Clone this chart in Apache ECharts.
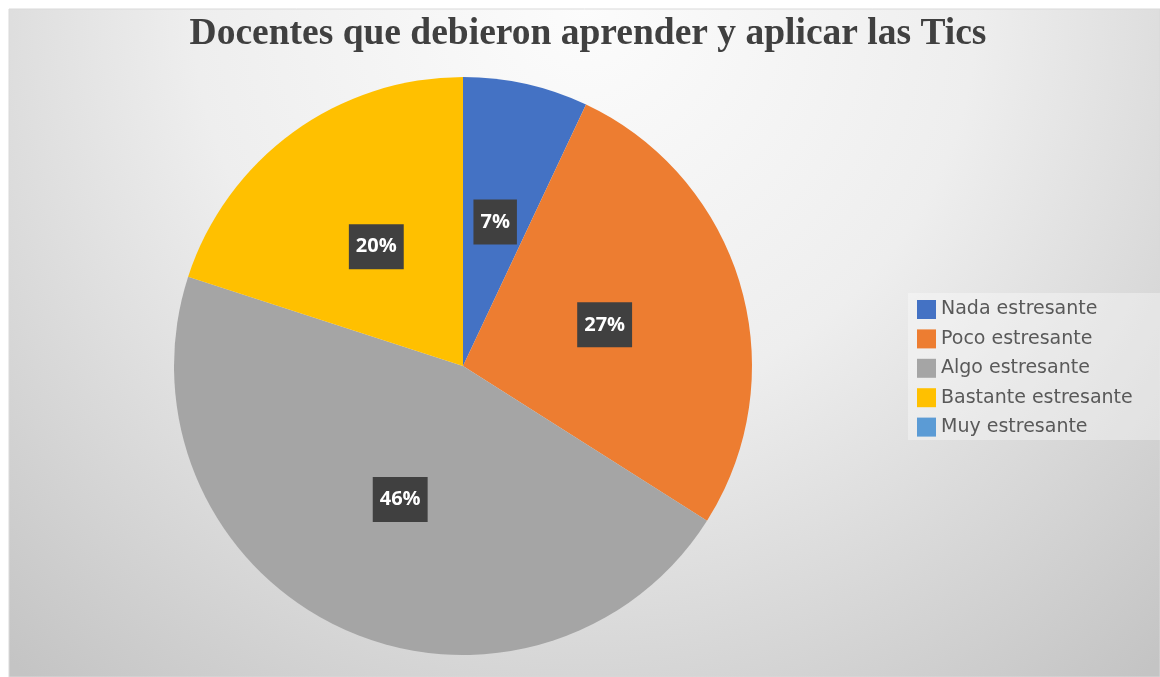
<!DOCTYPE html>
<html>
<head>
<meta charset="utf-8">
<script src="https://cdn.jsdelivr.net/npm/echarts@6/dist/echarts.min.js"></script>
<style>
html,body{margin:0;padding:0;background:#fff;}
#c{width:1160px;height:677px;}
</style>
</head>
<body>
<div id="c"></div>
<script>
const titleText = 'Docentes que debieron aprender y aplicar las Tics';
const categories = ['Nada estresante', 'Poco estresante', 'Algo estresante', 'Bastante estresante', 'Muy estresante'];
const values = [7, 27, 46, 20, 0];
const colors = ['#4472C4', '#ED7D31', '#A5A5A5', '#FFC000', '#5B9BD5'];

const chart = echarts.init(document.getElementById('c'), null, {renderer: 'canvas'});
const data = categories.map((name, i) => ({
  name: name,
  value: values[i],
  label: {show: values[i] > 0}
}));

chart.setOption({
  animation: false,
  color: colors,
  graphic: [
    {
      type: 'rect', z: -10, silent: true,
      shape: {x: 9, y: 9, width: 1151, height: 668},
      style: {
        fill: new echarts.graphic.RadialGradient(0.5, 0, 1.3, [
          {offset: 0, color: '#fcfcfc'},
          {offset: 0.45, color: '#eeeeee'},
          {offset: 1, color: '#c4c4c4'}
        ]),
        stroke: '#d9d9d9', lineWidth: 1
      }
    },
    {
      type: 'rect', z: -5, silent: true,
      shape: {x: 908, y: 293, width: 252, height: 147},
      style: {fill: 'rgba(255,255,255,0.35)'}
    }
  ],
  title: {
    text: titleText,
    left: 583,
    textAlign: 'center',
    top: 10,
    textStyle: {
      fontFamily: 'Liberation Serif',
      fontWeight: 'bold',
      fontSize: 37.5,
      color: '#404040'
    }
  },
  legend: {
    orient: 'vertical',
    left: 912,
    top: 295,
    itemWidth: 19,
    itemHeight: 19,
    itemGap: 10.4,
    icon: 'rect',
    textStyle: {
      fontFamily: 'DejaVu Sans',
      fontSize: 19,
      color: '#595959',
      padding: [0, 0, 0, 0]
    },
    data: categories
  },
  series: [{
    type: 'pie',
    center: [463, 366],
    radius: [0, 289],
    startAngle: 90,
    clockwise: true,
    data: data,
    itemStyle: {borderWidth: 0},
    label: {
      position: 'inside',
      formatter: p => p.value + '%',
      color: '#fff',
      fontFamily: 'Open Sans',
      fontWeight: 'bold',
      fontSize: 20,
      backgroundColor: '#404040',
      padding: [13, 7, 12, 7]
    },
    labelLine: {show: false},
    emphasis: {disabled: true}
  }]
});
</script>
</body>
</html>
